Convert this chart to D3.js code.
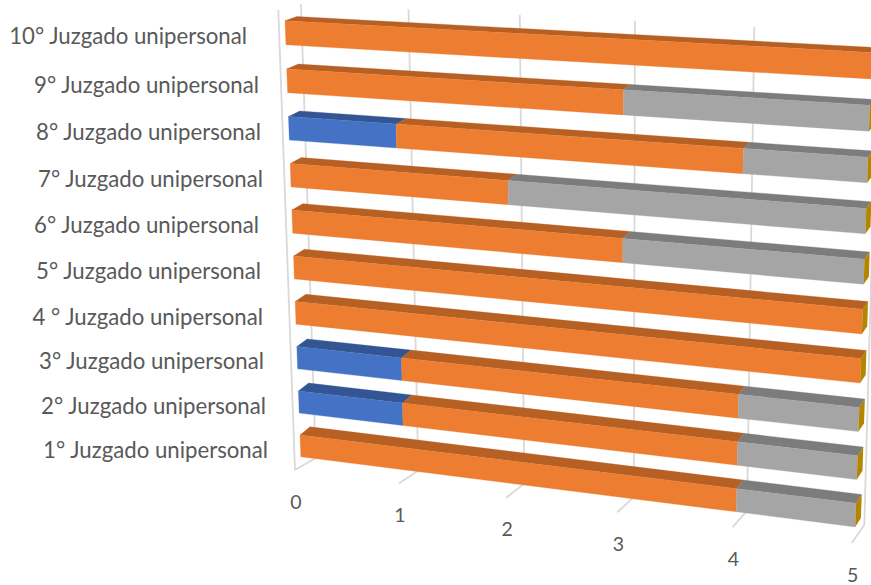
<!DOCTYPE html>
<html><head><meta charset="utf-8">
<style>html,body{margin:0;padding:0;background:#fff;overflow:hidden}svg{display:block}text{font-family:Lato,"Open Sans",sans-serif;fill:#595959}</style>
<script src="https://cdn.jsdelivr.net/npm/d3@7/dist/d3.min.js"></script>
</head><body><svg id="c" width="871" height="585"></svg>
<script>
const categories = ["1° Juzgado unipersonal","2° Juzgado unipersonal","3° Juzgado unipersonal","4 ° Juzgado unipersonal","5° Juzgado unipersonal","6° Juzgado unipersonal","7° Juzgado unipersonal","8° Juzgado unipersonal","9° Juzgado unipersonal","10° Juzgado unipersonal"];
const seriesBlue   = [0,1,1,0,0,0,0,1,0,0];
const seriesOrange = [4,3,3,5,5,3,2,3,3,5];
const seriesGray   = [1,1,1,0,0,2,3,1,2,0];
const seriesGold   = [0,0,0,0,0,0,0,0,0,0];
const tickValues = [0,1,2,3,4,5];

const seriesList = [
  {values:seriesBlue,  front:"#4472C4", top:"#335593"},
  {values:seriesOrange,front:"#ED7D31", top:"#B66024"},
  {values:seriesGray,  front:"#A5A5A5", top:"#7C7C7C"},
  {values:seriesGold,  front:"#FFC000", top:"#BF9000", side:"#B38600"}
];

// projective map of the unit square onto a quad: p00, p10, p11, p01
function quad(p0,p1,p2,p3){
  const dx1=p1[0]-p2[0],dx2=p3[0]-p2[0],sx=p0[0]-p1[0]+p2[0]-p3[0];
  const dy1=p1[1]-p2[1],dy2=p3[1]-p2[1],sy=p0[1]-p1[1]+p2[1]-p3[1];
  const den=dx1*dy2-dy1*dx2;
  const g=(sx*dy2-dx2*sy)/den,h=(dx1*sy-sx*dy1)/den;
  const a=p1[0]-p0[0]+g*p1[0],b=p3[0]-p0[0]+h*p3[0],c=p0[0];
  const d=p1[1]-p0[1]+g*p1[1],e=p3[1]-p0[1]+h*p3[1],f=p0[1];
  return (s,t)=>{const w=g*s+h*t+1;return [(a*s+b*t+c)/w,(d*s+e*t+f)/w];};
}
const value01 = d3.scaleLinear().domain([0,5]).range([0,1]);
const row01   = d3.scaleLinear().domain([0.75,9.75]).range([0,1]);
const barFront = quad([300,435],[856,503.3],[871.7,52.5],[285,20.7]);
const barBack  = quad([310,426.8],[861.7,494.5],[876.4,47.5],[296.7,16.5]);
const wall  = quad([315.7,458],[864.3,525],[878,33],[301,4]);
// front floor edge shares the same foreshortening as the bars
const persp = s => s/(1.09*(1-s)+s);
const floorFront = d3.scaleLinear().domain([0,1]);
const floorFrontX = floorFront.copy().range([295,851.7]);
const floorFrontY = floorFront.copy().range([470,543]);
const front = s => [floorFrontX(persp(s)),floorFrontY(persp(s))];
const sideTop=[278.3,10];

const F=(v,u)=>barFront(value01(v),row01(u));
const B=(v,u)=>barBack(value01(v),row01(u));
const svg=d3.select("#c");
const line=d3.line();
const poly=pts=>line(pts)+"Z";

// walls + floor grid
const grid=svg.append("g").attr("stroke","#D9D9D9").attr("stroke-width",1.8).attr("fill","none");
tickValues.forEach(t=>{
  const s=value01(t);
  grid.append("path").attr("d",line([wall(s,1),wall(s,0),front(s)]));
});
grid.append("path").attr("d",line([sideTop,front(0)]));

// bars
const bars=svg.append("g");
const barHalf=0.25;
categories.forEach((cat,i)=>{
  const uT=i+0.5+barHalf, uB=i+0.5-barHalf;
  let acc=0, total=0;
  seriesList.forEach(s=>total+=s.values[i]);
  const g=bars.append("g");
  seriesList.forEach(s=>{
    const v=s.values[i];
    if(v<=0) return;
    const a=acc,b=acc+v; acc=b;
    g.append("path").attr("d",poly([F(a,uT),F(b,uT),B(b,uT),B(a,uT)])).attr("fill",s.top).attr("stroke",s.top).attr("stroke-width",.3);
  });
  acc=0;
  seriesList.forEach(s=>{
    const v=s.values[i];
    if(v<=0) return;
    const a=acc,b=acc+v; acc=b;
    g.append("path").attr("d",poly([F(a,uT),F(b,uT),F(b,uB),F(a,uB)])).attr("fill",s.front).attr("stroke",s.front).attr("stroke-width",.3);
  });
  g.append("path").attr("d",poly([F(total,uT),B(total,uT),B(total,uB),F(total,uB)])).attr("fill",seriesList[3].side);
});

// value labels
svg.append("g").selectAll("text").data(tickValues).join("text")
  .attr("x",d=>front(value01(d))[0]+1)
  .attr("y",d=>front(value01(d))[1]+31)
  .attr("text-anchor","middle").attr("dominant-baseline","central")
  .attr("font-size",19.5).text(d=>d);

// category labels
const labelEnd=d3.scaleOrdinal(categories,[268,266,264,263,261,259,263,261,259,247]);
svg.append("g").selectAll("text").data(categories).join("text")
  .attr("x",d=>labelEnd(d))
  .attr("y",(d,i)=>F(0,i+0.5)[1]+3.2)
  .attr("text-anchor","end").attr("dominant-baseline","central")
  .attr("font-size",22.2).text(d=>d);
</script></body></html>
